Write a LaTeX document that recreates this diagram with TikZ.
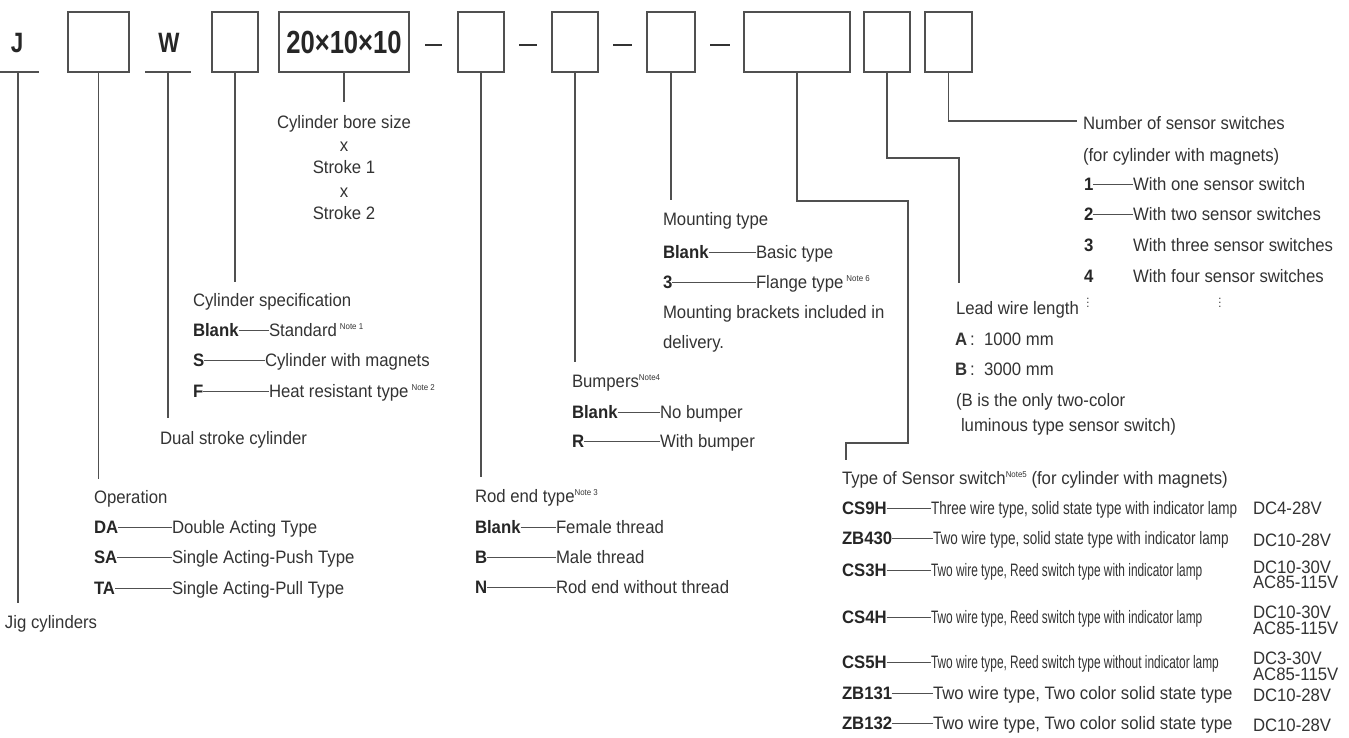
\documentclass[tikz,border=0pt]{standalone}
\usepackage{fontspec}
\setmainfont{Liberation Sans}[FakeStretch=0.93]
\newfontfamily\narrowfont{Liberation Sans}[FakeStretch=0.75]
\newfontfamily\narrowerfont{Liberation Sans}[FakeStretch=0.66]
\newfontfamily\condfont{Liberation Sans}[FakeStretch=0.8]
\definecolor{ink}{HTML}{333333}
\definecolor{linec}{HTML}{505050}
\newcommand\myfs{\fontsize{18}{20}\selectfont}
\newcommand\notemark[1]{\raisebox{7pt}{\fontsize{8.5}{8.5}\selectfont #1}}
\newcommand\optrow[6]{%
  \node[code] (#1c) at (#2,#3) {#4};
  \node[lbl] (#1t) at (#5,#3) {#6};
  \draw[tick] (#1c.east) -- (#1t.west);}
\begin{document}
\begin{tikzpicture}[x=1pt,y=-1pt,
  every node/.style={inner sep=0pt,outer sep=0pt,text=ink},
  txt/.style={font=\myfs,text height=13pt,text depth=0pt},
  lbl/.style={txt,anchor=west},
  code/.style={lbl,font=\myfs\bfseries,text=black!85},
  big/.style={font=\fontsize{28}{28}\selectfont\condfont\bfseries,text height=20pt,text depth=0pt,text=black!85},
  slot/.style={draw=linec,line width=1.8pt,minimum height=60pt},
  leader/.style={draw=linec,line width=1.4pt},
  tick/.style={draw=linec,line width=0.8pt},
  sepbar/.style={draw=black!80,line width=2.6pt},
  dots/.style={font=\fontsize{12}{12}\selectfont,text=black!80}]
\useasboundingbox (0,0) rectangle (1349,738);
\fill[white] (0,0) rectangle (1349,738);

% ---- top code row
\node[big] (J) at (17,43) {J};
\node[slot,minimum width=61pt] (b1) at (98.5,42) {};
\node[big] (W) at (169,43) {W};
\node[slot,minimum width=46pt] (b2) at (235,42) {};
\node[slot,minimum width=130pt,font=\fontsize{32}{32}\selectfont\condfont\bfseries,text=black!85] (b3) at (344,42) {20×10×10};
\node[slot,minimum width=46pt] (b4) at (481,42) {};
\node[slot,minimum width=46pt] (b5) at (575,42) {};
\node[slot,minimum width=48pt] (b6) at (671,42) {};
\node[slot,minimum width=106pt] (b7) at (797,42) {};
\node[slot,minimum width=46pt] (b8) at (887,42) {};
\node[slot,minimum width=47pt] (b9) at (948.5,42) {};
\draw[sepbar] (425,45) -- (442,45);
\draw[sepbar] (519,45) -- (537,45);
\draw[sepbar] (613,45) -- (632,45);
\draw[sepbar] (710,45) -- (730,45);

% underlines of fixed letters
\coordinate (Ja) at (0,72); \coordinate (Jb) at (39,72); \coordinate (Jt) at (18,72);
\coordinate (Wa) at (145,72); \coordinate (Wb) at (191,72); \coordinate (Wt) at (168,72);
\draw[leader] (Ja) -- (Jb);
\draw[leader] (Wa) -- (Wb);

% ---- leader lines
\coordinate (eJ) at (18,603);
\coordinate (e1) at (98.5,479);
\coordinate (eW) at (168,418);
\coordinate (e2) at (235,282);
\coordinate (e3) at (344,102);
\coordinate (e4) at (481,477);
\coordinate (e5) at (575,362);
\coordinate (e6) at (671,200);
\coordinate (e7) at (846,460);
\coordinate (e8) at (959,283);
\coordinate (e9) at (1077,121);
\draw[leader] (Jt) -- (eJ);
\draw[leader] (b1.south) -- (e1);
\draw[leader] (Wt) -- (eW);
\draw[leader] (b2.south) -- (e2);
\draw[leader] (b3.south) -- (e3);
\draw[leader] (b4.south) -- (e4);
\draw[leader] (b5.south) -- (e5);
\draw[leader] (b6.south) -- (e6);
\draw[leader] (b7.south) |- (908,201) |- (846,443) -- (e7);
\draw[leader] (b8.south) |- (959,158) -- (e8);
\draw[leader] (b9.south) |- (e9);

% ---- bore size
\node[txt] (bore) at (344,122) {Cylinder bore size};
\node[txt] (x1) at (344,145) {x};
\node[txt] (s1) at (344,167) {Stroke 1};
\node[txt] (x2) at (344,191) {x};
\node[txt] (s2) at (344,213) {Stroke 2};

% ---- cylinder specification
\node[lbl] (cs) at (193,300) {Cylinder specification};
\optrow{c1}{193}{330}{Blank}{269}{Standard\,\notemark{Note 1}}
\optrow{c2}{193}{360}{S}{265}{Cylinder with magnets}
\optrow{c3}{193}{391}{F}{269}{Heat resistant type\,\notemark{Note 2}}
\node[lbl] (dual) at (160,438) {Dual stroke cylinder};

% ---- operation
\node[lbl] (op) at (94,497) {Operation};
\optrow{o1}{94}{527}{DA}{172}{Double Acting Type}
\optrow{o2}{94}{557}{SA}{172}{Single Acting-Push Type}
\optrow{o3}{94}{588}{TA}{172}{Single Acting-Pull Type}
\node[lbl] (jig) at (5,622) {Jig cylinders};

% ---- rod end
\node[lbl] (rod) at (475,496) {Rod end type\notemark{Note 3}};
\optrow{r1}{475}{527}{Blank}{556}{Female thread}
\optrow{r2}{475}{557}{B}{556}{Male thread}
\optrow{r3}{475}{587}{N}{556}{Rod end without thread}

% ---- bumpers
\node[lbl] (bum) at (572,381) {Bumpers\notemark{Note4}};
\optrow{u1}{572}{412}{Blank}{660}{No bumper}
\optrow{u2}{572}{441}{R}{660}{With bumper}

% ---- mounting
\node[lbl] (mt) at (663,219) {Mounting type};
\optrow{m1}{663}{252}{Blank}{756}{Basic type}
\optrow{m2}{663}{282}{3}{756}{Flange type\,\notemark{Note 6}}
\node[lbl] (mb1) at (663,312) {Mounting brackets included in};
\node[lbl] (mb2) at (663,342) {delivery.};

% ---- number of sensor switches
\node[lbl] (ns) at (1083,123) {Number of sensor switches};
\node[lbl] (ns2) at (1083,155) {(for cylinder with magnets)};
\optrow{n1}{1084}{184}{1}{1133}{With one sensor switch}
\optrow{n2}{1084}{214}{2}{1133}{With two sensor switches}
\node[code] (n3c) at (1084,245) {3};
\node[lbl] (n3t) at (1133,245) {With three sensor switches};
\node[code] (n4c) at (1084,276) {4};
\node[lbl] (n4t) at (1133,276) {With four sensor switches};
\node[dots] (vd1) at (1088,300) {$\vdots$};
\node[dots] (vd2) at (1220,300) {$\vdots$};

% ---- lead wire
\node[lbl] (lw) at (956,308) {Lead wire length};
\node[lbl] (lwa) at (955,339) {\textbf{A}\,:\ \ 1000 mm};
\node[lbl] (lwb) at (955,369) {\textbf{B}\,:\ \ 3000 mm};
\node[lbl] (lwc) at (956,400) {(B is the only two-color};
\node[lbl] (lwd) at (961,425) {luminous type sensor switch)};

% ---- sensor switch type
\node[lbl] (st) at (842,478) {Type of Sensor switch\notemark{Note5} (for cylinder with magnets)};
\optrow{t1}{842}{508}{CS9H}{931}{\narrowfont Three wire type, solid state type with indicator lamp}
\optrow{t2}{842}{538}{ZB430}{933}{\narrowfont Two wire type, solid state type with indicator lamp}
\optrow{t3}{842}{570}{CS3H}{931}{\narrowerfont Two wire type, Reed switch type with indicator lamp}
\optrow{t4}{842}{617}{CS4H}{931}{\narrowerfont Two wire type, Reed switch type with indicator lamp}
\optrow{t5}{842}{662}{CS5H}{931}{\narrowerfont Two wire type, Reed switch type without indicator lamp}
\optrow{t6}{842}{693}{ZB131}{933}{Two wire type, Two color solid state type}
\optrow{t7}{842}{723}{ZB132}{933}{Two wire type, Two color solid state type}
\node[lbl] (v1) at (1253,508) {DC4-28V};
\node[lbl] (v2) at (1253,540) {DC10-28V};
\node[lbl] (v3a) at (1253,567) {DC10-30V};
\node[lbl] (v3b) at (1253,582) {AC85-115V};
\node[lbl] (v4a) at (1253,612) {DC10-30V};
\node[lbl] (v4b) at (1253,628) {AC85-115V};
\node[lbl] (v5a) at (1253,658) {DC3-30V};
\node[lbl] (v5b) at (1253,674) {AC85-115V};
\node[lbl] (v6) at (1253,695) {DC10-28V};
\node[lbl] (v7) at (1253,725) {DC10-28V};
\end{tikzpicture}
\end{document}
